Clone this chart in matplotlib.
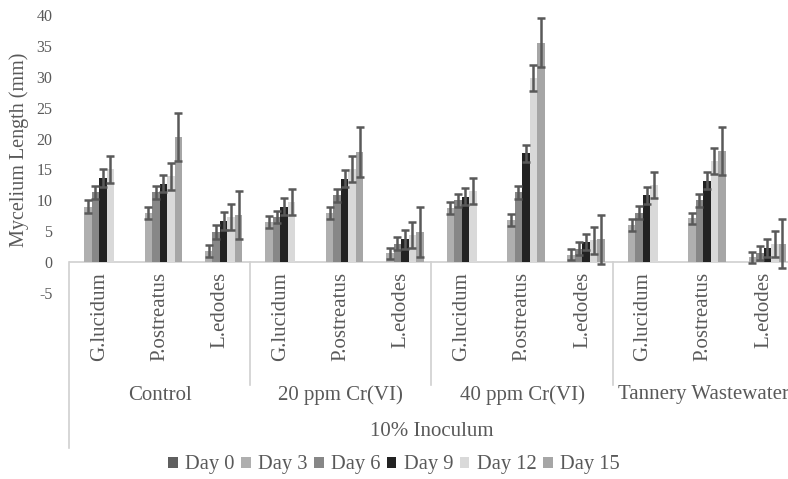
import numpy as np
import matplotlib
matplotlib.use("Agg")
import matplotlib.pyplot as plt
import matplotlib.transforms as mtransforms

plt.rcParams['font.family'] = ['Liberation Serif', 'DejaVu Serif']

groups = ["Control", "20 ppm Cr(VI)", "40 ppm Cr(VI)", "Tannery Wastewater"]
species = ["G.lucidum", "P.ostreatus", "L.edodes"]
outer_label = "10% Inoculum"
days = ["Day 0", "Day 3", "Day 6", "Day 9", "Day 12", "Day 15"]
nan = np.nan

day0 = [0, 0, 0, 0, 0, 0, 0, 0, 0, 0, 0, 0]
day3 = [9.0, 8.0, 1.8, 6.5, 8.0, 1.4, 8.8, 6.8, 1.2, 6.0, 7.1, 0.8]
day6 = [11.3, 11.3, 4.9, 7.3, 10.8, 3.0, 10.0, 11.3, 2.2, 8.0, 10.0, 1.5]
day9 = [13.6, 12.7, 6.6, 9.0, 13.5, 3.7, 10.6, 17.6, 3.2, 10.8, 13.2, 2.3]
day12 = [15.0, 13.9, 7.3, 9.7, 15.0, 4.4, 11.5, 29.8, 3.5, 12.5, 16.4, 2.9]
day15 = [nan, 20.3, 7.6, nan, 17.8, 4.9, nan, 35.5, 3.7, nan, 18.0, 3.0]

err0 = None
err3 = [1.0, 0.95, 0.9, 1.0, 0.95, 0.9, 0.95, 0.95, 0.9, 0.9, 0.9, 0.9]
err6 = [1.1, 1.1, 1.1, 1.05, 1.05, 1.1, 1.0, 1.1, 1.1, 1.1, 1.1, 1.1]
err9 = [1.4, 1.35, 1.45, 1.35, 1.4, 1.5, 1.4, 1.4, 1.3, 1.4, 1.4, 1.4]
err12 = [2.15, 2.2, 2.1, 2.1, 2.1, 2.15, 2.1, 2.05, 2.15, 2.1, 2.1, 2.1]
err15 = [nan, 3.9, 3.9, nan, 4.0, 4.0, nan, 3.95, 3.95, nan, 3.9, 4.0]

yticks = [-5, 0, 5, 10, 15, 20, 25, 30, 35, 40]

series = [day0, day3, day6, day9, day12, day15]
errors = [err0, err3, err6, err9, err12, err15]
colors = ["#5f5f5f", "#afafaf", "#878787", "#222222", "#d9d9d9", "#a6a6a6"]
text_color = "#595959"
line_color = "#d0d0d0"

W, H = 788, 479
fig = plt.figure(figsize=(W / 100, H / 100), dpi=100)
ax_left = 69 / W
cat_px = 60.4
n_cat = len(groups) * len(species)
ax_w = n_cat * cat_px / W
ax_top = 1 - 15 / H
ax_bot = 1 - 293 / H
ax = fig.add_axes([ax_left, ax_bot, ax_w, ax_top - ax_bot])

x = np.arange(n_cat)
bw = 7.5 / cat_px
for k, (vals, errs, c, lab) in enumerate(zip(series, errors, colors, days)):
    pos = x + (k - 2.5) * bw
    ax.bar(pos, vals, width=bw, color=c, label=lab, zorder=2, linewidth=0)
    if errs is not None:
        ax.errorbar(pos, vals, yerr=errs, fmt='none', ecolor="#595959",
                    elinewidth=1.8, capsize=2.7, capthick=1.8, zorder=3)

ax.set_xlim(-0.5, n_cat - 0.5)
ax.set_ylim(-5, 40)
ax.set_yticks(yticks)
ax.set_yticklabels([str(t) for t in yticks])
ax.tick_params(axis='y', length=0, pad=12, labelsize=11.5, labelcolor=text_color)
ax.set_xticks([])
for s in ax.spines.values():
    s.set_visible(False)
ax.axhline(0, color=line_color, lw=1.2, zorder=1)

fig.text(19 / W, 1 - 150 / H, "Mycelium Length (mm)", rotation=90, ha='center',
         va='center', fontsize=14.5, color=text_color)

tr = mtransforms.blended_transform_factory(ax.transData, fig.transFigure)
def fy(px):
    return 1 - px / H

# species labels
for i in range(n_cat):
    ax.text(i, fy(272), species[i % 3], rotation=90, ha='center', va='top',
            transform=tr, fontsize=15, color=text_color, clip_on=False)
# group labels
for g, name in enumerate(groups):
    ax.text(g * 3 + 1, fy(395), name, ha='center', va='center', transform=tr,
            fontsize=15, color=text_color, clip_on=False)
# separators
for g in range(1, len(groups) + 1):
    ax.plot([g * 3 - 0.5] * 2, [fy(262), fy(385)], transform=tr, color=line_color,
            lw=1.2, clip_on=False)
ax.plot([-0.5, -0.5], [fy(262), fy(448)], transform=tr, color=line_color, lw=1.2,
        clip_on=False)
ax.text((n_cat - 1) / 2, fy(432), outer_label, ha='center', va='center', transform=tr,
        fontsize=15, color=text_color, clip_on=False)

fig.legend(loc='center', bbox_to_anchor=(0.5, fy(465)), ncol=6, frameon=False,
           handlelength=0.47, handleheight=0.47, handletextpad=0.37, columnspacing=0.3,
           fontsize=14.8, labelcolor=text_color, borderaxespad=0)

fig.savefig("out.png", dpi=100)
